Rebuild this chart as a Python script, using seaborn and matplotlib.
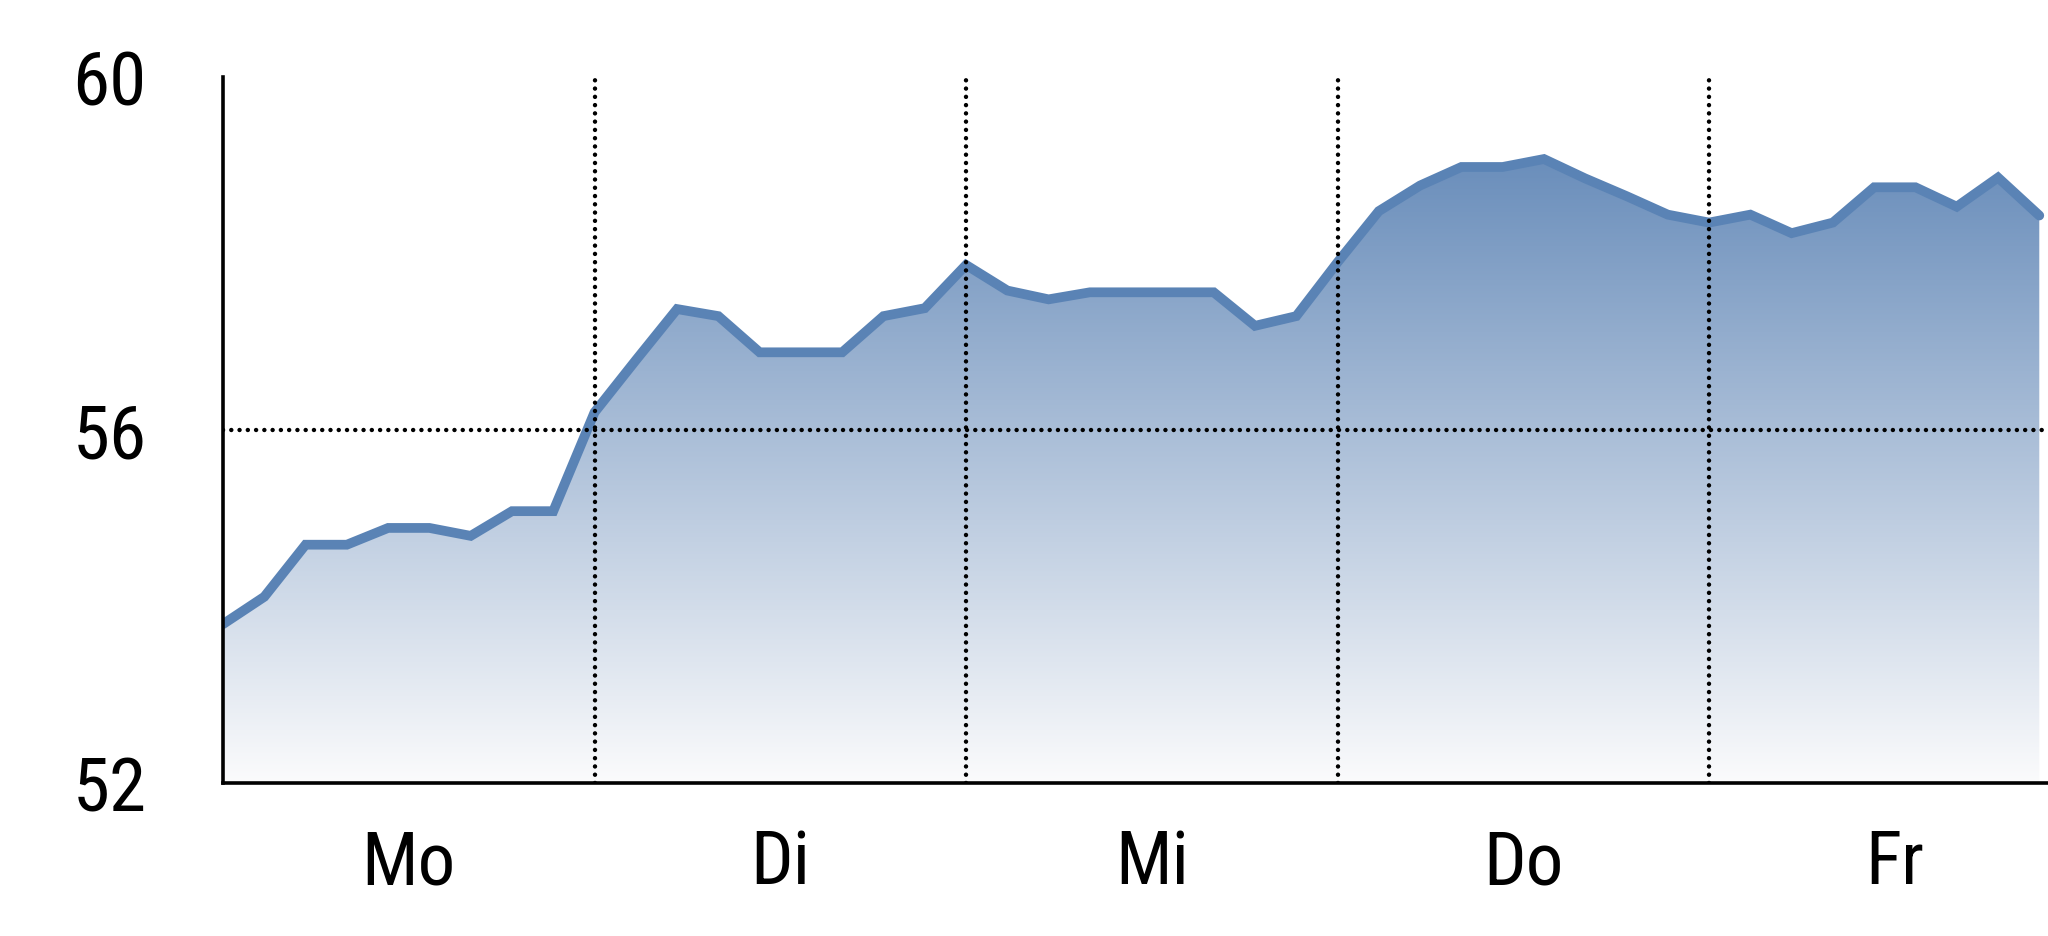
import numpy as np
import pandas as pd
import matplotlib
matplotlib.use("Agg")
import matplotlib.pyplot as plt
import seaborn as sns
from matplotlib.colors import LinearSegmentedColormap

# weekday labels, nine steps per day
days = ["Mo", "Di", "Mi", "Do", "Fr"]
steps_per_day = 9

# values
values = [
    53.80, 54.11, 54.70, 54.70, 54.89, 54.89, 54.80, 55.08, 55.08,
    56.20, 56.79, 57.37, 57.29, 56.88, 56.88, 56.88, 57.29, 57.38,
    57.87, 57.58, 57.48, 57.56, 57.56, 57.56, 57.56, 57.18, 57.29,
    57.90, 58.48, 58.77, 58.98, 58.98, 59.07, 58.85, 58.65, 58.44,
    58.35, 58.44, 58.23, 58.35, 58.75, 58.75, 58.53, 58.86, 58.43,
]
y_ticks = [52, 56, 60]
y_grid = [56]

line_color = "#5a83b5"
top_fill = "#6a8ebb"

sns.set_theme(style="white")
plt.rcParams['font.family'] = ['Liberation Sans Narrow', 'Roboto Condensed',
                               'Liberation Sans', 'DejaVu Sans']
plt.rcParams['text.color'] = 'black'
plt.rcParams['xtick.color'] = 'black'
plt.rcParams['ytick.color'] = 'black'

df = pd.DataFrame({"step": np.arange(len(values)), "value": values})
n_steps = steps_per_day * len(days)

fig = plt.figure(figsize=(20.48, 9.37), dpi=100)
ax = fig.add_axes([0.1089, 0.1633, 0.907, 0.7535])

# gradient area under the curve
fill = ax.fill_between(df["step"], df["value"], y_ticks[0], color="none", lw=0)
grad = np.linspace(0, 1, 256).reshape(-1, 1)
cmap = LinearSegmentedColormap.from_list("fade", ["#fbfbfc", top_fill])
img = ax.imshow(grad, extent=[0, len(values) - 1, y_ticks[0], max(values)],
                origin="lower", aspect="auto", cmap=cmap, zorder=1)
img.set_clip_path(fill.get_paths()[0], transform=ax.transData)

sns.lineplot(data=df, x="step", y="value", color=line_color, linewidth=7,
             ax=ax, zorder=3, solid_capstyle="round", solid_joinstyle="miter")

# dotted separators
dots = (0, (0.01, 1.85))
for d in range(1, len(days)):
    ax.axvline(d * steps_per_day, color="black", lw=3.2, linestyle=dots,
               dash_capstyle="round", zorder=4)
for g in y_grid:
    ax.axhline(g, color="black", lw=3.2, linestyle=dots,
               dash_capstyle="round", zorder=4)

ax.set_xlim(0, n_steps)
ax.set_ylim(y_ticks[0], y_ticks[-1])
ax.set_yticks(y_ticks)
ax.set_xticks([steps_per_day * (i + 0.5) for i in range(len(days))])
ax.set_xticklabels(days)
ax.set_xlabel("")
ax.set_ylabel("")
ax.tick_params(axis="y", length=0, labelsize=54, pad=55, labelcolor="black")
ax.tick_params(axis="x", length=0, labelsize=54, pad=32, labelcolor="black")

for side in ["top", "right"]:
    ax.spines[side].set_visible(False)
for side in ["left", "bottom"]:
    ax.spines[side].set_color("black")
    ax.spines[side].set_linewidth(2.6)
    ax.spines[side].set_zorder(5)

fig.savefig("out.png", dpi=100, facecolor="white")
plt.close(fig)
